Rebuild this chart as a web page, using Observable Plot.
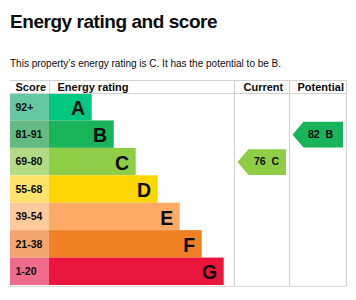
<!DOCTYPE html>
<html><head><meta charset="utf-8">
<script src="https://cdn.jsdelivr.net/npm/d3@7"></script>
<script src="https://cdn.jsdelivr.net/npm/@observablehq/plot@0.6"></script>
<style>
body{margin:0;background:#fff;width:356px;height:300px;overflow:hidden;position:relative;font-family:"Liberation Sans",Arial,sans-serif;color:#0b0c0c}
#title{position:absolute;left:10px;top:11.5px;font-size:19px;line-height:19px;font-weight:700;letter-spacing:-0.45px;white-space:nowrap}
#sub{position:absolute;left:10px;top:57.5px;font-size:10px;line-height:12px;white-space:nowrap}
#chart{position:absolute;left:0;top:74px}
</style></head><body>
<div id="title">Energy rating and score</div>
<div id="sub">This property’s energy rating is C. It has the potential to be B.</div>
<div id="chart"></div>
<script>
// ---- data ----
const bands = ["A", "B", "C", "D", "E", "F", "G"];
const scoreRanges = ["92+", "81-91", "69-80", "55-68", "39-54", "21-38", "1-20"];
const bandColors = ["#00c781", "#19b459", "#8dce46", "#ffd500", "#fcaa65", "#ef8023", "#e9153b"];
const scoreColors = ["#66c8a2", "#63ba83", "#b5da87", "#fde36a", "#fdcaa0", "#f4a66c", "#ef6c8b"];
const columnHeaders = ["Score", "Energy rating", "Current", "Potential"];
const currentScore = 76, currentBand = "C";
const potentialScore = 82, potentialBand = "B";

// ---- layout (pixel units of the x scale, row units of the y scale) ----
const SCORE_X0 = 10, BAR_X0 = 49, BAR_LEN0 = 42.7, BAR_STEP = 22;
const CUR_X0 = 234, POT_X0 = 289, TABLE_X1 = 346;
const headerX = [15, 57, 243, 297];
const HEAD_TOP = -0.474, HEAD_MID = -0.237, TABLE_BOTTOM = 7.03;
const FONT = "Liberation Sans, Arial, sans-serif";
const INK = "#0b0c0c", GRID = "#d2d2d2";

const rows = bands.map((b, i) => ({
  band: b, i, score: scoreRanges[i], color: bandColors[i], light: scoreColors[i],
  end: BAR_X0 + BAR_LEN0 + BAR_STEP * i
}));
const headers = columnHeaders.map((label, k) => ({label, x: headerX[k]}));

function arrow(colStart, colEnd, band) {
  const i = bands.indexOf(band);
  const tip = colStart + 3, end = colEnd - 3.5, neck = tip + 11;
  return [[tip, i + 0.5], [neck, i + 0.03], [end, i + 0.03], [end, i + 0.97], [neck, i + 0.97], [tip, i + 0.5]];
}
const curPts = arrow(CUR_X0, POT_X0, currentBand);
const potPts = arrow(POT_X0, TABLE_X1, potentialBand);
const labels = [
  {x: CUR_X0 + 3 + 29, y: bands.indexOf(currentBand) + 0.5, text: `${currentScore}\u00a0\u00a0${currentBand}`},
  {x: POT_X0 + 3 + 28, y: bands.indexOf(potentialBand) + 0.5, text: `${potentialScore}\u00a0\u00a0${potentialBand}`}
];

const chart = Plot.plot({
  width: 356, height: 226,
  marginLeft: 0, marginRight: 0, marginTop: 19, marginBottom: 15,
  x: {domain: [0, 356], axis: null},
  y: {domain: [0, 7], reverse: true, axis: null},
  style: {fontFamily: FONT, background: "white"},
  marks: [
    Plot.rect(rows, {x1: () => SCORE_X0, x2: () => BAR_X0, y1: d => d.i, y2: d => d.i + 1, fill: d => d.light}),
    Plot.rect(rows, {x1: () => BAR_X0, x2: d => d.end, y1: d => d.i, y2: d => d.i + 1, fill: d => d.color}),
    Plot.ruleY([HEAD_TOP, 0, TABLE_BOTTOM], {x1: () => SCORE_X0, x2: () => TABLE_X1, stroke: GRID}),
    Plot.ruleX([BAR_X0], {y1: () => HEAD_TOP, y2: () => 0, stroke: GRID}),
    Plot.ruleX([CUR_X0, POT_X0, TABLE_X1], {y1: () => HEAD_TOP, y2: () => TABLE_BOTTOM, stroke: GRID, strokeWidth: 1.2}),
    Plot.text(headers, {x: "x", y: () => HEAD_MID, text: "label", textAnchor: "start", fontWeight: "bold", fontSize: 11, fill: INK}),
    Plot.text(rows, {x: () => 15, y: d => d.i + 0.5, text: "score", textAnchor: "start", fontWeight: "bold", fontSize: 10.5, fill: INK}),
    Plot.text(rows, {x: d => d.end - 7, y: d => d.i + 0.55, text: "band", textAnchor: "end", fontWeight: "bold", fontSize: 19.5, fill: INK}),
    Plot.line(curPts, {x: d => d[0], y: d => d[1], fill: bandColors[bands.indexOf(currentBand)], stroke: "none"}),
    Plot.line(potPts, {x: d => d[0], y: d => d[1], fill: bandColors[bands.indexOf(potentialBand)], stroke: "none"}),
    Plot.text(labels, {x: "x", y: "y", text: "text", textAnchor: "middle", fontWeight: "bold", fontSize: 10.5, fill: INK})
  ]
});
document.getElementById("chart").appendChild(chart);
</script>
</body></html>
